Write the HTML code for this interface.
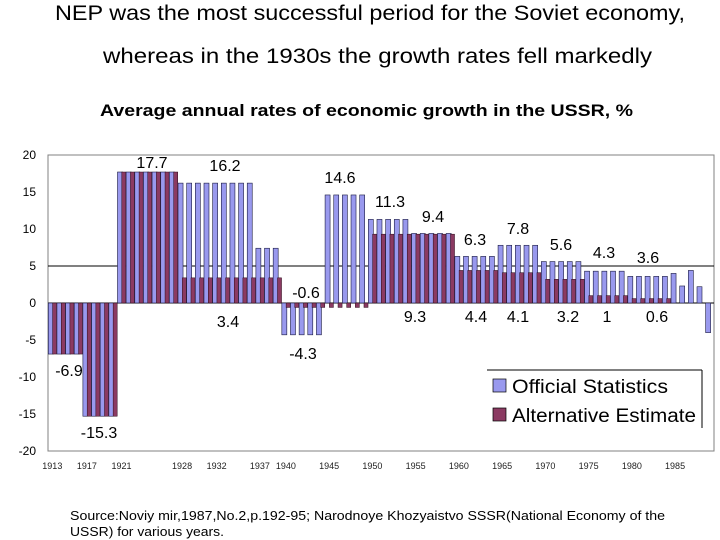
<!DOCTYPE html>
<html><head><meta charset="utf-8"><style>
body{margin:0;background:#fff;}
svg{display:block;font-family:"Liberation Sans",sans-serif;}
</style></head><body>
<svg id="chart" width="720" height="540" viewBox="0 0 720 540">
<text x="55" y="20" font-size="21" textLength="630" lengthAdjust="spacingAndGlyphs">NEP was the most successful period for the Soviet economy,</text>
<text x="103" y="63" font-size="21" textLength="549" lengthAdjust="spacingAndGlyphs">whereas in the 1930s the growth rates fell markedly</text>
<text x="100" y="116" font-size="17" font-weight="bold" textLength="533" lengthAdjust="spacingAndGlyphs">Average annual rates of economic growth in the USSR, %</text>
<rect x="48" y="155" width="666" height="296" fill="#fff" stroke="#808080" stroke-width="1"/>
<g id="grid"></g>
<g id="bars"></g>
<g id="yticks" font-size="12"></g>
<g id="xticks" font-size="9" fill="#222"></g>
<g id="annots" font-size="16"></g>
<g>
<rect x="487" y="370" width="215" height="58" fill="#fff"/>
<line x1="487" y1="370" x2="702" y2="370" stroke="#000"/>
<line x1="702" y1="370" x2="702" y2="428" stroke="#000"/>
<rect x="493" y="379" width="13" height="13" fill="#9999ee" stroke="#000" stroke-width="0.7"/>
<text x="512" y="393" font-size="19" textLength="156" lengthAdjust="spacingAndGlyphs">Official Statistics</text>
<rect x="493" y="408" width="13" height="13" fill="#8b3a62" stroke="#000" stroke-width="0.7"/>
<text x="512" y="422" font-size="19" textLength="184" lengthAdjust="spacingAndGlyphs">Alternative Estimate</text>
</g>
<text x="70" y="520" font-size="12.5" textLength="595" lengthAdjust="spacingAndGlyphs">Source:Noviy mir,1987,No.2,p.192-95; Narodnoye Khozyaistvo SSSR(National Economy   of the</text>
<text x="70" y="536" font-size="12.5" textLength="154" lengthAdjust="spacingAndGlyphs">USSR) for various years.</text>
</svg>
<script>
const years = [];
for (let y = 1913; y <= 1989; y++) years.push(y);
const officialPeriods = [[1913,1916,-6.9],[1917,1920,-15.3],[1921,1927,17.7],[1928,1936,16.2],[1937,1939,7.4],[1940,1944,-4.3],[1945,1949,14.6],[1950,1954,11.3],[1955,1959,9.4],[1960,1964,6.3],[1965,1969,7.8],[1970,1974,5.6],[1975,1979,4.3],[1980,1984,3.6],[1985,1985,4.0],[1986,1986,2.3],[1987,1987,4.4],[1988,1988,2.2],[1989,1989,-4.0]];
const alternativePeriods = [[1913,1916,-6.9],[1917,1920,-15.3],[1921,1927,17.7],[1928,1939,3.4],[1940,1949,-0.6],[1950,1959,9.3],[1960,1964,4.4],[1965,1969,4.1],[1970,1974,3.2],[1975,1979,1],[1980,1984,0.6]];
const yTicks = [20,15,10,5,0,-5,-10,-15,-20];
const xTickYears = [1913,1917,1921,1928,1932,1937,1940,1945,1950,1955,1960,1965,1970,1975,1980,1985];
const annotations = [["17.7",152,168],["16.2",225,171],["14.6",340,183],["11.3",390,207],["9.4",433,222],["6.3",475,245],["7.8",518,234],["5.6",561,250],["4.3",604,258],["3.6",648,263],["-0.6",306,298],["-6.9",69,376],["-15.3",99,438],["3.4",228,327],["-4.3",303,359],["9.3",415,322],["4.4",476,322],["4.1",518,322],["3.2",568,322],["1",607,322],["0.6",657,322]];

const NS = "http://www.w3.org/2000/svg";
const x0 = 48, catW = 666 / years.length;
const yScale = v => 303 - v * 7.4;
const xScale = yr => x0 + (years.indexOf(yr)) * catW;
function mk(tag, attrs, parent) { const e = document.createElementNS(NS, tag); for (const k in attrs) e.setAttribute(k, attrs[k]); parent.appendChild(e); return e; }
function expand(periods) { const m = {}; periods.forEach(p => { for (let y = p[0]; y <= p[1]; y++) m[y] = p[2]; }); return m; }
const off = expand(officialPeriods), alt = expand(alternativePeriods);

const grid = document.getElementById('grid');
[5, 0].forEach(v => {
  const l = mk('line', {x1: 48, x2: 714, y1: yScale(v), y2: yScale(v), stroke: '#000', 'stroke-width': 1}, grid);
  
  
});

const bars = document.getElementById('bars');
years.forEach(yr => {
  const xs = xScale(yr);
  if (off[yr] !== undefined) {
    const v = off[yr];
    const r = mk('rect', {x: xs + 0.3, y: Math.min(yScale(v), yScale(0)), width: 5, height: Math.abs(yScale(v) - yScale(0)), fill: '#9999ee', stroke: '#1a1a40', 'stroke-width': 0.6}, bars);
    
    
  }
  if (alt[yr] !== undefined) {
    const v = alt[yr];
    const r = mk('rect', {x: xs + 4.6, y: Math.min(yScale(v), yScale(0)), width: 4.05, height: Math.abs(yScale(v) - yScale(0)), fill: '#8b3a62', stroke: '#2a0a1a', 'stroke-width': 0.5}, bars);
    
    
  }
});

const yt = document.getElementById('yticks');
yTicks.forEach(v => {
  const t = mk('text', {x: 36, y: yScale(v) + 4, 'text-anchor': 'end'}, yt);
  t.textContent = v;
  
  
});
const xt = document.getElementById('xticks');
xTickYears.forEach(yr => {
  const t = mk('text', {x: xScale(yr) + catW / 2, y: 469, 'text-anchor': 'middle'}, xt);
  t.textContent = yr;
  
  
});
const an = document.getElementById('annots');
annotations.forEach(a => {
  const t = mk('text', {x: a[1], y: a[2], 'text-anchor': 'middle'}, an);
  t.textContent = a[0];
  
  
});
</script>
</body></html>
